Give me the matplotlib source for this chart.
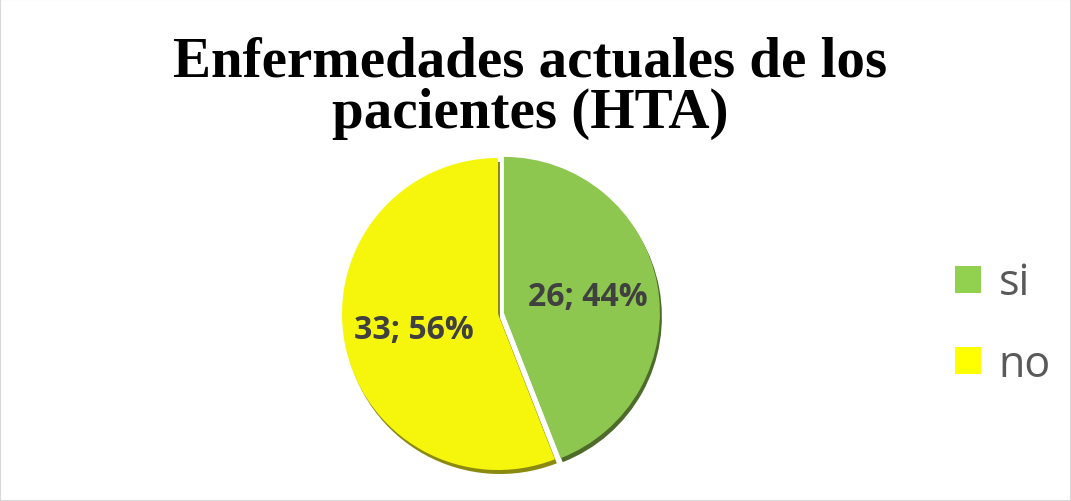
import matplotlib.pyplot as plt
from matplotlib.patches import Rectangle

# chart data
categories = ["si", "no"]
counts = [26, 33]
colors = ["#8DC74F", "#F6F60C"]
shadow_colors = ["#4E6B2C", "#8A8A10"]
legend_colors = ["#92D050", "#FFFF00"]
title = "Enfermedades actuales de los\npacientes (HTA)"

W, H = 1071, 502
fig = plt.figure(figsize=(W / 100, H / 100), dpi=100)
fig.patches.append(Rectangle((0, 0), 1, 1, transform=fig.transFigure,
                             fill=False, edgecolor="#D9D9D9", linewidth=1.5))

ax = fig.add_axes([0, 0, 1, 1])
ax.set_xlim(0, W)
ax.set_ylim(0, H)
ax.set_aspect("equal")
ax.axis("off")

total = sum(counts)
center = (498, 187)
radius = 156
explode = [6, 0]  # in data units (pixels here)


def fmt(p):
    return f"{round(p * total / 100)}; {p:.0f}%"


# dark copy behind for the bevel/shadow look
ax.pie(counts, colors=shadow_colors, startangle=90, counterclock=False,
       explode=explode, radius=radius, center=(center[0] + 2, center[1] - 4),
       wedgeprops=dict(linewidth=0))

wedges, _, autotexts = ax.pie(
    counts, colors=colors, startangle=90, counterclock=False,
    explode=explode, radius=radius, center=center,
    autopct=fmt, pctdistance=0.55,
    wedgeprops=dict(linewidth=0),
    textprops=dict(fontsize=23, fontweight="bold", color="#404040",
                   family="Open Sans"))
ax.set_xlim(0, W)
ax.set_ylim(0, H)

fig.text(0.495, 0.928, title, ha="center", va="top", fontsize=41,
         fontweight="bold", family="Liberation Serif", linespacing=0.98)

handles = [Rectangle((0, 0), 1, 1, facecolor=c, edgecolor="none")
           for c in legend_colors]
leg = fig.legend(handles, categories, loc="center left",
                 bbox_to_anchor=(0.892, 0.353), frameon=False,
                 borderpad=0, borderaxespad=0,
                 prop=dict(family="Open Sans", size=31),
                 handlelength=0.6, handleheight=0.6, handletextpad=0.4,
                 labelspacing=0.85)
for t in leg.get_texts():
    t.set_color("#595959")

fig.savefig("out.png", dpi=100)
